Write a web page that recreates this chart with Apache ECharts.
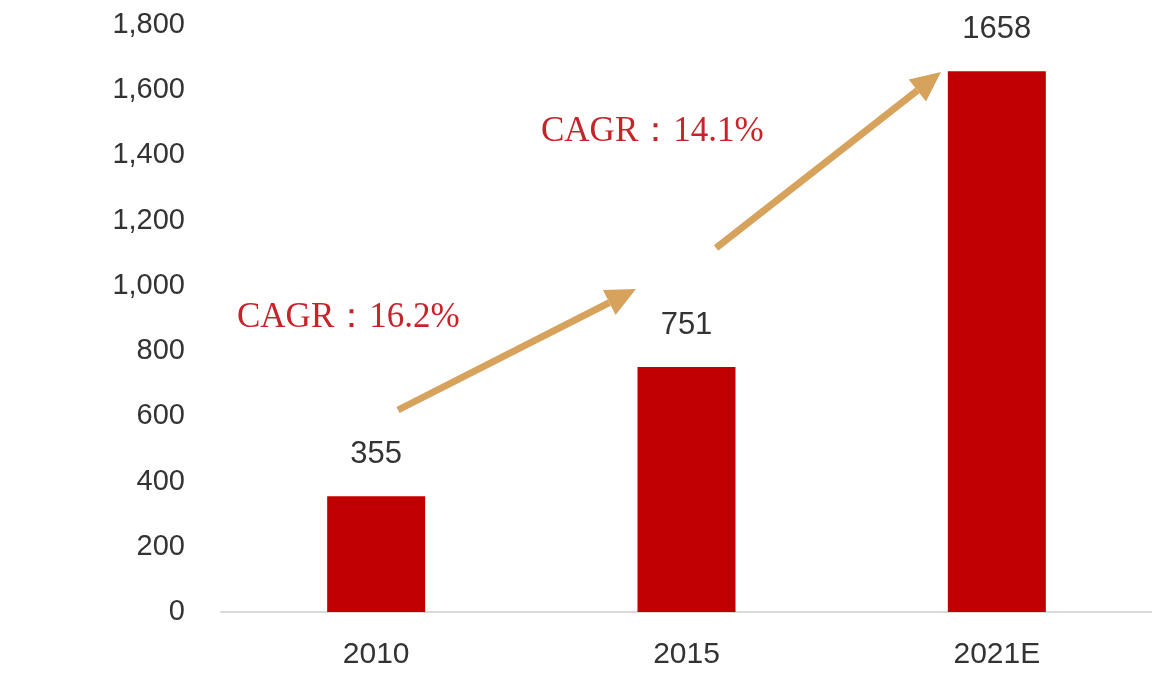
<!DOCTYPE html>
<html><head><meta charset="utf-8">
<script src="https://cdn.jsdelivr.net/npm/echarts@6/dist/echarts.min.js"></script>
<style>html,body{margin:0;background:#fff}#c{width:1152px;height:698px}</style>
</head><body><div id="c"></div>
<script>
var years = ['2010', '2015', '2021E'];
var values = [355, 751, 1658];
var yTicks = { min: 0, max: 1800, interval: 200 };
var cagrLabels = ['CAGR：16.2%', 'CAGR：14.1%'];

function arrow(x1, y1, x2, y2) {
    var a = Math.atan2(y2 - y1, x2 - x1), L = 30, W = 14;
    var bx = x2 - L * Math.cos(a), by = y2 - L * Math.sin(a);
    var nx = -Math.sin(a) * W, ny = Math.cos(a) * W;
    return [{
        type: 'line', shape: { x1: x1, y1: y1, x2: bx, y2: by },
        style: { stroke: '#D6A25C', lineWidth: 7 }
    }, {
        type: 'polygon', shape: { points: [[x2, y2], [bx + nx, by + ny], [bx - nx, by - ny]] },
        style: { fill: '#D6A25C' }
    }];
}

var myChart = echarts.init(document.getElementById('c'));
var option = {
    grid: { left: 221, right: -5, top: 25, bottom: 86 },
    xAxis: {
        type: 'category', data: years,
        axisLine: { lineStyle: { color: '#d9d9d9', width: 2 } },
        axisTick: { show: false },
        axisLabel: { color: '#333', fontSize: 30, fontFamily: 'Liberation Sans', margin: 28 }
    },
    yAxis: {
        type: 'value', min: yTicks.min, max: yTicks.max, interval: yTicks.interval,
        splitLine: { show: false },
        axisLabel: { color: '#333', fontSize: 29, fontFamily: 'Liberation Sans', margin: 36 }
    },
    series: [{
        type: 'bar', data: values, barWidth: 98,
        itemStyle: { color: '#C00000' },
        label: { show: true, position: 'top', distance: 26, color: '#333', fontSize: 31, fontFamily: 'Liberation Sans' }
    }],
    graphic: arrow(398, 410, 636, 289).concat(arrow(716, 248, 941, 72)).concat([
        { type: 'text', left: 237, top: 300, style: { text: cagrLabels[0], fill: '#C8232B', fontSize: 35, fontFamily: 'Liberation Serif' } },
        { type: 'text', left: 541, top: 114, style: { text: cagrLabels[1], fill: '#C8232B', fontSize: 35, fontFamily: 'Liberation Serif' } }
    ])
};
myChart.setOption(option);
</script></body></html>
